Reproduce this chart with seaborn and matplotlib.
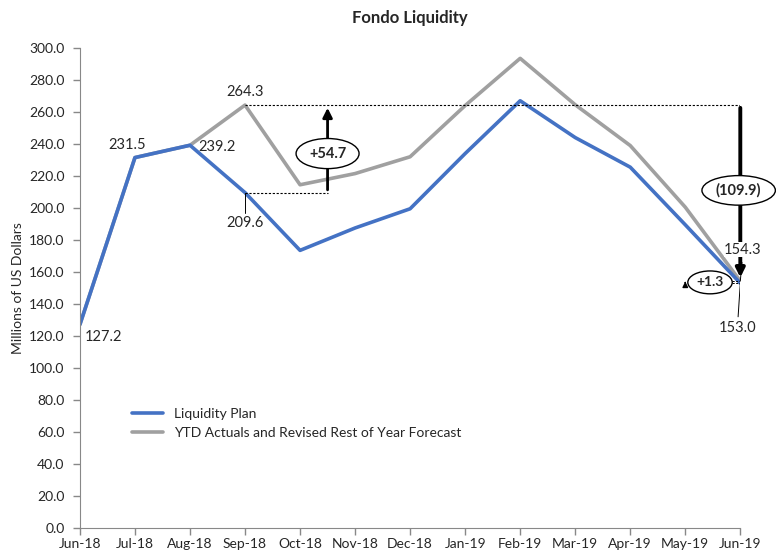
import matplotlib.pyplot as plt
import seaborn as sns
import pandas as pd
import numpy as np

# Monthly liquidity values (millions of US dollars)
months = ['Jun-18', 'Jul-18', 'Aug-18', 'Sep-18', 'Oct-18', 'Nov-18', 'Dec-18',
          'Jan-19', 'Feb-19', 'Mar-19', 'Apr-19', 'May-19', 'Jun-19']
plan = [127.2, 231.5, 239.2, 209.6, 173.5, 187.5, 199.5,
        234.0, 267.0, 244.0, 225.5, 189.5, 153.0]
forecast = [127.2, 231.5, 239.2, 264.3, 214.5, 221.5, 232.0,
            264.0, 293.5, 264.5, 239.0, 200.5, 154.3]
series_names = ['Liquidity Plan', 'YTD Actuals and Revised Rest of Year Forecast']
gap_labels = ['+54.7', '(109.9)', '+1.3']

df = pd.DataFrame({'Month': np.arange(len(months)),
                   series_names[0]: plan,
                   series_names[1]: forecast})
long_df = df.melt('Month', var_name='Series', value_name='Value')

sns.set_style('white')
plt.rcParams['font.family'] = ['Lato', 'DejaVu Sans']

fig = plt.figure(figsize=(7.76, 5.55), dpi=100)
ax = fig.add_axes([0.103, 0.0486, 0.851, 0.865])

colors = {series_names[0]: '#4472C4', series_names[1]: '#A0A0A0'}
# forecast first so that the plan line sits on top
sns.lineplot(data=long_df, x='Month', y='Value', hue='Series',
             palette=colors, linewidth=2.6, ax=ax,
             hue_order=[series_names[1], series_names[0]], legend=False)
for name in series_names:
    ax.plot([], [], color=colors[name], linewidth=2.6, label=name)

ax.set_xlim(0, 12)
ax.set_ylim(0, 300)
ax.set_xticks(range(len(months)))
ax.set_xticklabels(months, fontsize=10)
ax.set_yticks(np.arange(0, 301, 20))
ax.set_yticklabels([f'{v:.1f}' for v in np.arange(0, 301, 20)], fontsize=10)
ax.set_xlabel('')
ax.set_ylabel('Millions of US Dollars', fontsize=10)
ax.tick_params(direction='out', length=5, color='#888888', width=1,
               bottom=True, left=True)
ax.tick_params(axis='x', pad=2)
ax.tick_params(axis='y', pad=6)
for s in ['top', 'right']:
    ax.spines[s].set_visible(False)
for s in ['left', 'bottom']:
    ax.spines[s].set_color('#888888')
ax.set_title('Fondo Liquidity', fontsize=12, fontweight='bold', pad=18)

leg = ax.legend(loc='lower left', bbox_to_anchor=(0.06, 0.16), frameon=False,
                fontsize=10, handlelength=2.2)

# value labels
ax.text(0.08, plan[0] - 8, '127.2', fontsize=10.5, va='center', ha='left')
ax.text(0.85, plan[1] + 8, '231.5', fontsize=10.5, va='center', ha='center')
ax.text(2.5, plan[2] - 1, '239.2', fontsize=10.5, va='center', ha='center')
ax.text(3.0, forecast[3] + 8, '264.3', fontsize=10.5, va='center', ha='center')
ax.plot([3, 3], [plan[3], plan[3] - 13], color='black', lw=0.7)
ax.text(3.0, plan[3] - 19, '209.6', fontsize=10.5, va='center', ha='center')

# Sep-18 gap annotation
ax.plot([3, 12], [forecast[3], forecast[3]], color='black', lw=0.8, ls=(0, (2, 1.5)))
ax.plot([3, 4.5], [plan[3], plan[3]], color='black', lw=0.8, ls=(0, (2, 1.5)))
ax.annotate('', xy=(4.5, forecast[3]), xytext=(4.5, plan[3]),
            arrowprops=dict(arrowstyle='-|>', color='black', lw=2, mutation_scale=14))
ax.text(4.5, 234, gap_labels[0], fontsize=10.5, fontweight='bold',
        ha='center', va='center',
        bbox=dict(boxstyle='ellipse,pad=0.25', fc='white', ec='black', lw=1))

# Jun-19 gap annotation
ax.annotate('', xy=(12, forecast[12] + 0.5), xytext=(12, forecast[3]),
            arrowprops=dict(arrowstyle='-|>', color='black', lw=2.8, mutation_scale=13),
            annotation_clip=False)
ax.text(11.97, 211, gap_labels[1], fontsize=10.5, fontweight='bold',
        ha='center', va='center',
        bbox=dict(boxstyle='ellipse,pad=0.22', fc='white', ec='black', lw=1))
ax.text(12.05, 174, '154.3', fontsize=10.5, ha='center', va='center', zorder=5,
        bbox=dict(boxstyle='square,pad=0.05', fc='white', ec='none'))
ax.plot([12, 12.03], [forecast[12], 166], color='black', lw=0.7, clip_on=False)
ax.text(11.95, 125, '153.0', fontsize=10.5, ha='center', va='center')
ax.plot([12, 11.96], [plan[12], 132], color='black', lw=0.7)

# small +1.3 marker
ax.plot([11.05, 12], [forecast[12], forecast[12]], color='black', lw=0.7, ls=(0, (2, 1.5)))
ax.plot([11.05, 12], [plan[12], plan[12]], color='black', lw=0.7, ls=(0, (2, 1.5)))
ax.annotate('', xy=(11.0, forecast[12] + 1.5), xytext=(11.0, plan[12] - 1.5),
            arrowprops=dict(arrowstyle='-|>', color='black', lw=1, mutation_scale=8))
ax.text(11.45, 153.5, gap_labels[2], fontsize=10, fontweight='bold',
        ha='center', va='center',
        bbox=dict(boxstyle='ellipse,pad=0.15', fc='white', ec='black', lw=1))

plt.savefig('out.png', dpi=100)
